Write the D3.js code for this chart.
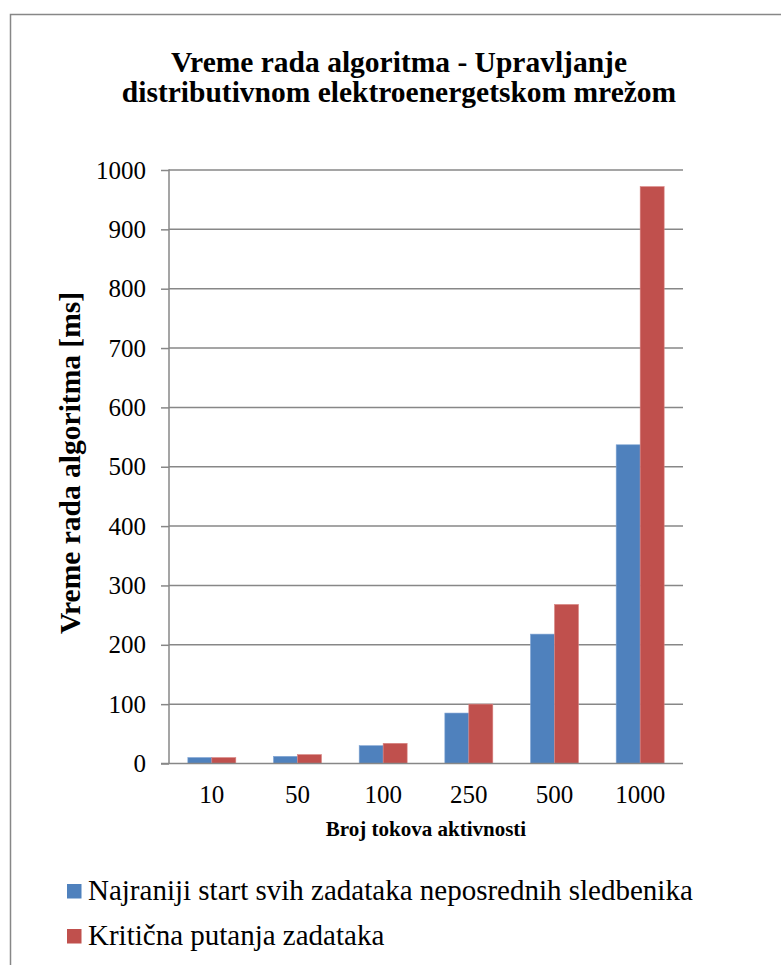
<!DOCTYPE html>
<html>
<head>
<meta charset="utf-8">
<script src="https://cdn.jsdelivr.net/npm/d3@7/dist/d3.min.js"></script>
<style>
  html, body { margin: 0; padding: 0; background: #fff; }
</style>
</head>
<body>
<svg id="chart" width="781" height="965"></svg>
<script>
const categories = ["10", "50", "100", "250", "500", "1000"];
const seriesNames = ["Najraniji start svih zadataka neposrednih sledbenika", "Kritična putanja zadataka"];
const seriesBlue = [10, 12, 30, 85, 218, 537];
const seriesRed = [10, 15, 34, 100, 268, 972];
const yTicks = [0, 100, 200, 300, 400, 500, 600, 700, 800, 900, 1000];
const titleLines = ["Vreme rada algoritma - Upravljanje", "distributivnom elektroenergetskom mrežom"];
const xTitle = "Broj tokova aktivnosti";
const yTitle = "Vreme rada algoritma [ms]";
const colors = ["#4F81BD", "#C0504D"];
const series = [seriesBlue, seriesRed];

const FONT = "Liberation Serif, Times New Roman, DejaVu Serif, serif";
const svg = d3.select("#chart");
const plotLeft = 169, plotRight = 683, plotTop = 170, plotBottom = 763.5;
const gridColor = "#878787";

// outer border (chart area frame, cropped on right/bottom)
svg.append("path")
  .attr("d", `M10.5,965 L10.5,14.5 L781,14.5`)
  .attr("fill", "none").attr("stroke", gridColor).attr("stroke-width", 1.5);

// title
const title = svg.append("text")
  .attr("font-family", FONT)
  .attr("text-anchor", "middle")
  .attr("font-weight", "bold")
  .attr("font-size", 29.5)
  .attr("fill", "#000");
titleLines.forEach((t, i) => {
  title.append("tspan").attr("x", 399).attr("y", 72 + i * 30).text(t);
});

const x = d3.scaleBand().domain(categories).range([plotLeft, plotRight]).paddingInner(0.44).paddingOuter(0.22);
const xs = d3.scaleBand().domain([0, 1]).range([0, x.bandwidth()]);
const y = d3.scaleLinear().domain([0, 1000]).range([plotBottom, plotTop]);

// y axis ticks and labels via d3 axis
const yAxis = svg.append("g")
  .attr("transform", `translate(${plotLeft},0)`)
  .call(d3.axisLeft(y).tickValues(yTicks).tickSize(8).tickPadding(15).tickFormat(d3.format("d")));
yAxis.attr("font-family", FONT);
yAxis.select(".domain").remove();
yAxis.selectAll(".tick line").attr("stroke", gridColor).attr("stroke-width", 1.5);
yAxis.selectAll(".tick text")
  .attr("font-size", 25)
  .attr("font-family", FONT)
  .attr("fill", "#000");

// gridlines
svg.append("g")
  .selectAll("line")
  .data(yTicks.filter(d => d > 0))
  .join("line")
  .attr("x1", plotLeft).attr("x2", plotRight)
  .attr("y1", d => y(d)).attr("y2", d => y(d))
  .attr("stroke", gridColor).attr("stroke-width", 1.5);

// bars
categories.forEach((c, i) => {
  series.forEach((s, k) => {
    svg.append("rect")
      .attr("x", x(c) + xs(k))
      .attr("y", y(s[i]))
      .attr("width", xs.bandwidth())
      .attr("height", plotBottom - y(s[i]))
      .attr("fill", colors[k])
      .attr("stroke", k === 0 ? "#7fa3d3" : "#d98583")
      .attr("stroke-width", 0.6);
  });
});

// axis lines
svg.append("line").attr("x1", plotLeft).attr("x2", plotLeft).attr("y1", plotTop - 0.75).attr("y2", plotBottom)
  .attr("stroke", gridColor).attr("stroke-width", 1.5);
svg.append("line").attr("x1", plotLeft - 8).attr("x2", plotRight).attr("y1", plotBottom).attr("y2", plotBottom)
  .attr("stroke", gridColor).attr("stroke-width", 1.5);

// x axis labels
const xAxis = svg.append("g")
  .attr("transform", `translate(0,${plotBottom})`)
  .call(d3.axisBottom(x).tickSize(0).tickPadding(22));
xAxis.attr("font-family", FONT);
xAxis.select(".domain").remove();
xAxis.selectAll(".tick text")
  .attr("font-size", 25)
  .attr("font-family", FONT)
  .attr("fill", "#000");

// x title
svg.append("text")
  .attr("font-family", FONT)
  .attr("x", (plotLeft + plotRight) / 2).attr("y", 836)
  .attr("text-anchor", "middle").attr("font-weight", "bold").attr("font-size", 21)
  .attr("fill", "#000")
  .text(xTitle);

// y title
svg.append("text")
  .attr("font-family", FONT)
  .attr("transform", `translate(80,463) rotate(-90)`)
  .attr("text-anchor", "middle").attr("font-weight", "bold").attr("font-size", 29.5)
  .attr("fill", "#000")
  .text(yTitle);

// legend
const legend = svg.append("g");
seriesNames.forEach((n, k) => {
  const ly = 900 + k * 45;
  legend.append("rect").attr("x", 67).attr("y", ly - 16).attr("width", 14.5).attr("height", 14.5).attr("fill", colors[k]);
  legend.append("text").attr("font-family", FONT).attr("x", 88).attr("y", ly).attr("font-size", 29)
    .attr("fill", "#000").text(n);
});
</script>
</body>
</html>
